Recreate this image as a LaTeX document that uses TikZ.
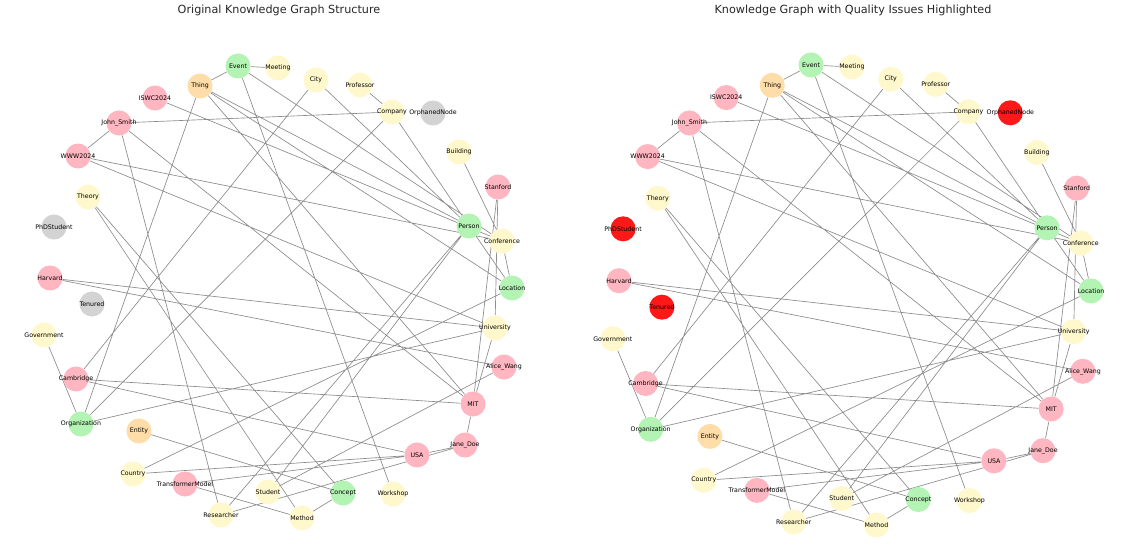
\documentclass[tikz,border=0pt]{standalone}
\usepackage{fontspec}
\setmainfont{DejaVu Sans}
\usetikzlibrary{backgrounds}

\definecolor{cRosa}{HTML}{FFB6C1}
\definecolor{cGronn}{HTML}{B3F3B3}
\definecolor{cGul}{HTML}{FFF8CC}
\definecolor{cOransje}{HTML}{FFDDA8}
\definecolor{cGra}{HTML}{D3D3D3}
\definecolor{cRod}{HTML}{FF1818}

% the whole graph, #1 = prefix of the node names
\newcommand{\kgraf}[1]{%
    %Upper part
    \node[knot, gronn, label={center:Event}] (#1Event) at (238,66) {};
    \node[knot, gul, label={center:Meeting}] (#1Meeting) at (278,68) {};
    \node[knot, gul, label={center:City}] (#1City) at (316,80) {};
    \node[knot, gul, label={center:Professor}] (#1Professor) at (360,85) {};
    \node[knot, gul, label={center:Company}] (#1Company) at (392,112) {};
    \node[knot, avvik, label={center:OrphanedNode}] (#1Orphaned) at (433,113) {};
    \node[knot, gul, label={center:Building}] (#1Building) at (459,152) {};
    %Right part
    \node[knot, rosa, label={center:Stanford}] (#1Stanford) at (498,187) {};
    \node[knot, gronn, label={center:Person}] (#1Person) at (469,226) {};
    \node[knot, gul, label={center:Conference}] (#1Conference) at (502,241) {};
    \node[knot, gronn, label={center:Location}] (#1Location) at (512,288) {};
    \node[knot, gul, label={center:University}] (#1University) at (495,328) {};
    \node[knot, rosa, label={center:Alice\_Wang}] (#1Alice) at (504,367) {};
    \node[knot, rosa, label={center:MIT}] (#1MIT) at (473,404) {};
    \node[knot, rosa, label={center:Jane\_Doe}] (#1Jane) at (465,445) {};
    %Lower part
    \node[knot, rosa, label={center:USA}] (#1USA) at (417,455) {};
    \node[knot, gul, label={center:Workshop}] (#1Workshop) at (393,494) {};
    \node[knot, gronn, label={center:Concept}] (#1Concept) at (343,493) {};
    \node[knot, gul, label={center:Method}] (#1Method) at (302,518) {};
    \node[knot, gul, label={center:Student}] (#1Student) at (268,492) {};
    \node[knot, gul, label={center:Researcher}] (#1Researcher) at (221,515) {};
    \node[knot, rosa, label={center:TransformerModel}] (#1Transformer) at (185,484) {};
    \node[knot, gul, label={center:Country}] (#1Country) at (133,474) {};
    \node[knot, oransje, label={center:Entity}] (#1Entity) at (139,431) {};
    %Left part
    \node[knot, gronn, label={center:Organization}] (#1Organization) at (81,424) {};
    \node[knot, rosa, label={center:Cambridge}] (#1Cambridge) at (76,379) {};
    \node[knot, gul, label={center:Government}] (#1Government) at (44,335) {};
    \node[knot, avvik, label={center:Tenured}] (#1Tenured) at (92,304) {};
    \node[knot, rosa, label={center:Harvard}] (#1Harvard) at (50,278) {};
    \node[knot, avvik, label={center:PhDStudent}] (#1PhD) at (54,227) {};
    \node[knot, gul, label={center:Theory}] (#1Theory) at (88,197) {};
    \node[knot, rosa, label={center:WWW2024}] (#1WWW) at (78,156) {};
    \node[knot, rosa, label={center:John\_Smith}] (#1John) at (119,123) {};
    \node[knot, rosa, label={center:ISWC2024}] (#1ISWC) at (155,98) {};
    \node[knot, oransje, label={center:Thing}] (#1Thing) at (200,86) {};
    %Edges, behind the nodes
    \begin{pgfonlayer}{background}
    \draw[linje] (#1Event) -- (#1Meeting) (#1Event) -- (#1Thing)
        (#1Event) -- (#1Workshop) (#1Event) -- (#1Conference)
        (#1Thing) -- (#1Organization) (#1Thing) -- (#1MIT)
        (#1Thing) -- (#1Person) (#1Thing) -- (#1Location)
        (#1ISWC) -- (#1Conference)
        (#1John) -- (#1WWW) (#1John) -- (#1Company)
        (#1John) -- (#1Researcher) (#1John) -- (#1MIT)
        (#1WWW) -- (#1Conference) (#1WWW) -- (#1University)
        (#1Theory) -- (#1Method) (#1Theory) -- (#1Concept)
        (#1Harvard) -- (#1University) (#1Harvard) -- (#1Alice)
        (#1Government) -- (#1Organization)
        (#1Cambridge) -- (#1City) (#1Cambridge) -- (#1MIT)
        (#1Cambridge) -- (#1USA)
        (#1Organization) -- (#1Company) (#1Organization) -- (#1University)
        (#1Entity) -- (#1Concept)
        (#1Country) -- (#1Location) (#1Country) -- (#1USA)
        (#1Transformer) -- (#1USA) (#1Transformer) -- (#1Method)
        (#1Researcher) -- (#1Person) (#1Researcher) -- (#1Jane)
        (#1Student) -- (#1Person) (#1Student) -- (#1Alice)
        (#1Method) -- (#1Concept)
        (#1USA) -- (#1Jane) (#1MIT) -- (#1Jane)
        (#1MIT) -- (#1University) (#1MIT) -- (#1Stanford)
        (#1Stanford) -- (#1University)
        (#1Building) -- (#1Conference) (#1Professor) -- (#1Company)
        (#1Company) -- (#1Person) (#1City) -- (#1Person)
        (#1Person) -- (#1Location) (#1Conference) -- (#1Location);
    \end{pgfonlayer}
}

\begin{document}
\begin{tikzpicture}[
    x=0.75pt, y=-0.75pt,
    knot/.style={circle, minimum size=18.8pt, inner sep=0pt},
    rosa/.style={fill=cRosa},
    gronn/.style={fill=cGronn},
    gul/.style={fill=cGul},
    oransje/.style={fill=cOransje},
    gra/.style={fill=cGra},
    rod/.style={fill=cRod},
    linje/.style={draw=black!45, line width=0.5pt},
    tittel/.style={font=\fontsize{8.4}{10}\selectfont, text=black!85},
    every label/.style={font=\fontsize{4.7}{5}\selectfont, inner sep=0pt}
    ]
\useasboundingbox (0,0) rectangle (1121,553);

%Left graph
\node[tittel] (titleL) at (279,10) {Original Knowledge Graph Structure};
\begin{scope}[avvik/.style={gra}]
    \kgraf{l}
\end{scope}

%Right graph, same edges
\node[tittel] (titleR) at (853,10) {Knowledge Graph with Quality Issues Highlighted};
\begin{scope}[shift={(567.9,-2.2)}, xscale=1.0216, yscale=1.0177,
    avvik/.style={rod}]
    \kgraf{r}
\end{scope}
\end{tikzpicture}
\end{document}
